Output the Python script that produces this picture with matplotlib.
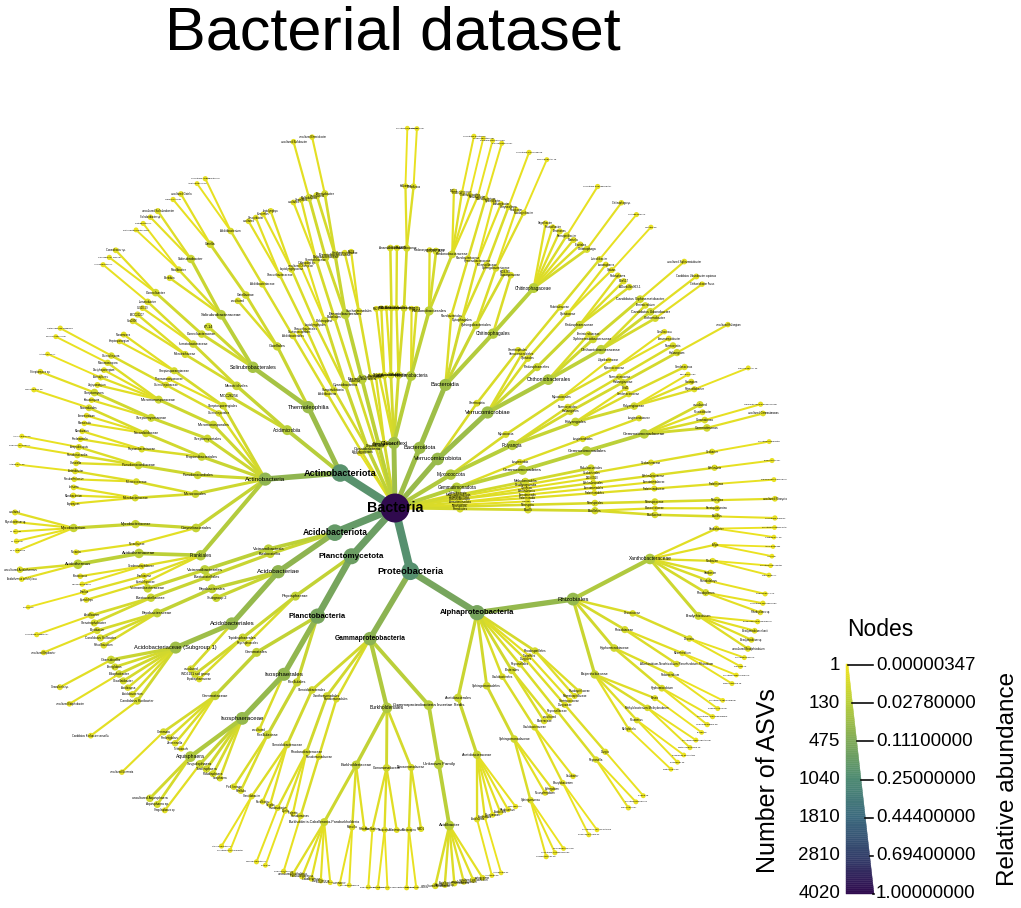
import numpy as np
import matplotlib.pyplot as plt
from matplotlib.collections import LineCollection
from matplotlib.colors import LinearSegmentedColormap
from matplotlib.patches import Polygon

plt.rcParams['font.family'] = ['Liberation Sans', 'DejaVu Sans']

title = "Bacterial dataset"
root_name = "Bacteria"
root_asvs = 4020

# taxonomy blocks: one node per line, indent = rank below phylum, "name, ASVs"
other_phyla = """
Firmicutes, 34
 Bacilli, 34
  Bacillales, 34
   Bacillaceae, 24
    Bacillus, 24
     uncultured Bacillus, 6
   Planococcaceae, 10
    Paenisporosarcina, 10
Nitrospirota, 24
 Nitrospiria, 24
  Nitrospirales, 24
   Nitrospiraceae, 24
    Nitrospira, 24
     uncultured Nitrospira, 10
Elusimicrobiota, 6
 Lineage IIb, 6
Armatimonadota, 20
 Fimbriimonadia, 12
  Fimbriimonadales, 12
   Fimbriimonadaceae, 12
    Fimbriimonas, 12
     Fimbriimonas ginsengisoli, 4
 Armatimonadia, 8
  Armatimonadales, 8
   Armatimonadaceae, 8
Bdellovibrionota, 24
 Bdellovibrionia, 16
  Bdellovibrionales, 16
   Bdellovibrionaceae, 16
    Bdellovibrio, 16
     Bdellovibrio sp., 5
 Oligoflexia, 8
  0319-6G20, 8
Desulfobacterota, 14
 Desulfuromonadia, 14
  Geobacterales, 14
   Geobacteraceae, 14
    Geobacter, 14
     uncultured Geobacter, 4
Methylomirabilota, 36
 Methylomirabilia, 36
  Rokubacteriales, 36
Latescibacterota, 8
Gemmatimonadota, 120
 Gemmatimonadetes, 104
  Gemmatimonadales, 104
   Gemmatimonadaceae, 104
    Gemmatimonas, 40
     uncultured Gemmatimonas, 10
    Gemmatirosa, 22
     Gemmatirosa kalamazoonesis, 6
    Roseisolibacter, 12
    uncultured, 30
 Longimicrobia, 16
  Longimicrobiales, 16
   Longimicrobiaceae, 16
Myxococcota, 150
 Polyangia, 124
  Polyangiales, 70
   Polyangiaceae, 40
    Pajaroellobacter, 14
     Pajaroellobacter sp., 4
    Sorangium, 14
    Chondromyces, 6
   Sandaracinaceae, 18
    Sandaracinus, 18
   BIrii41, 12
  Haliangiales, 34
   Haliangiaceae, 34
    Haliangium, 34
     uncultured Haliangium, 8
  Nannocystales, 20
   Nannocystaceae, 20
    Nannocystis, 20
 Myxococcia, 26
  Myxococcales, 26
   Myxococcaceae, 18
    Anaeromyxobacter, 10
    Corallococcus, 8
   Vulgatibacteraceae, 8
Verrucomicrobiota, 280
 Verrucomicrobiae, 256
  Chthoniobacterales, 160
   Chthoniobacteraceae, 96
    Chthoniobacter, 32
     Chthoniobacter flavus, 8
    Candidatus Udaeobacter, 44
     Candidatus Udaeobacter copiosus, 12
    Terrimicrobium, 20
   Xiphinematobacteraceae, 44
    Candidatus Xiphinematobacter, 44
     uncultured Xiphinematobacter, 10
   Terrimicrobiaceae, 20
  Pedosphaerales, 52
   Pedosphaeraceae, 52
    ADurb.Bin063-1, 22
    Ellin517, 16
    Pedosphaera, 14
  Opitutales, 24
   Opitutaceae, 24
    Opitutus, 12
     Opitutus sp., 4
    Lacunisphaera, 12
  Verrucomicrobiales, 20
   Rubritaleaceae, 20
    Luteolibacter, 20
     Luteolibacter sp., 5
 Omnitrophia, 24
  Omnitrophales, 24
Bacteroidota, 250
 Bacteroidia, 250
  Chitinophagales, 140
   Chitinophagaceae, 118
    Chitinophaga, 30
     Chitinophaga sp., 8
    Flavitalea, 16
    Niastella, 14
    Ferruginibacter, 20
     uncultured Ferruginibacter, 6
    Terrimonas, 14
    Flavisolibacter, 12
    Segetibacter, 12
   Saprospiraceae, 22
  Sphingobacteriales, 52
   KD3-93, 30
   Sphingobacteriaceae, 22
    Mucilaginibacter, 14
     Mucilaginibacter sp., 4
    Pedobacter, 8
  Cytophagales, 40
   Microscillaceae, 22
    Chryseolinea, 22
     uncultured Chryseolinea, 6
   Hymenobacteraceae, 18
    Adhaeribacter, 10
    Hymenobacter, 8
  Flavobacteriales, 18
   Flavobacteriaceae, 18
    Flavobacterium, 18
     Flavobacterium sp., 5
Chloroflexi, 240
 Ktedonobacteria, 120
  Ktedonobacterales, 90
   Ktedonobacteraceae, 46
    Ktedonobacter, 12
     Ktedonobacter racemifer, 4
    Thermosporothrix, 10
     Thermosporothrix sp., 3
    HSB OF53-F07, 14
     uncultured bacterium, 5
    1921-2, 10
   JG30-KF-AS9, 30
   Ktedonosporobacteraceae, 14
  C0119, 20
  TK10, 10
 Chloroflexia, 44
  Chloroflexales, 28
   Roseiflexaceae, 28
    Roseiflexus, 16
     Roseiflexus sp., 4
    Kallotenue, 12
     uncultured Kallotenue, 3
  Thermomicrobiales, 16
   JG30-KF-CM45, 16
 Anaerolineae, 34
  Anaerolineales, 22
   Anaerolineaceae, 22
  RBG-13-54-9, 12
 Dehalococcoidia, 26
  S085, 14
  FW22, 12
 AD3, 16
Patescibacteria, 40
 Parcubacteria, 16
 Saccharimonadia, 24
  Saccharimonadales, 24
   LWQ8, 10
   Saccharimonadaceae, 14
WPS-2, 100
 Eremiobacteria, 100
  Eremiobacterales, 100
   Eremiobacteraceae, 60
    Eremiobacter, 30
     uncultured Eremiobacter, 8
    uncultured, 30
   Baltobacteraceae, 40
    Baltobacter, 40
     uncultured Baltobacter, 10
Dependentiae, 30
 Babeliae, 30
  Babeliales, 30
   Vermiphilaceae, 30
    Vermiphilus, 12
    uncultured, 10
Cyanobacteria, 90
 Cyanobacteriia, 60
  Chloroplast, 40
   Chloroplast sp., 10
   uncultured Chloroplast, 8
  Leptolyngbyales, 20
   Leptolyngbyaceae, 20
    Leptolyngbya, 12
    Stenomitos, 8
 Vampirivibrionia, 30
  Obscuribacterales, 20
   Obscuribacteraceae, 20
    Obscuribacter, 10
    uncultured, 10
  Gastranaerophilales, 10
Abditibacteriota, 20
 Abditibacteria, 20
  Abditibacteriales, 20
   Abditibacteriaceae, 20
    Abditibacterium, 20
     uncultured Abditibacterium, 6
     Abditibacterium sp., 4
Sumerlaeota, 6
"""

actinobacteriota = """
Actinobacteriota, 860
 Thermoleophilia, 260
  Gaiellales, 60
   Gaiellaceae, 40
    Gaiella, 40
     uncultured Gaiella, 10
     Gaiella occulta, 6
   uncultured, 20
  Solirubrobacterales, 200
   Solirubrobacteraceae, 110
    Solirubrobacter, 60
     uncultured Solirubrobacter, 14
     Solirubrobacter sp., 8
    Patulibacter, 20
     Patulibacter sp., 5
     Patulibacter minatonensis, 4
    Baekduia, 16
   67-14, 50
   Conexibacteraceae, 40
    Conexibacter, 40
     Conexibacter sp., 10
     Conexibacter woesei, 6
 Acidimicrobiia, 120
  Microtrichales, 70
   Ilumatobacteraceae, 40
    Ilumatobacter, 20
     Ilumatobacter sp., 5
    CL500-29, 10
   Microtrichaceae, 30
    IMCC26207, 16
    Sva0996, 14
  IMCC26256, 50
 Actinobacteria, 330
  Streptosporangiales, 40
   Streptosporangiaceae, 30
    Nonomuraea, 12
    Streptosporangium, 8
   Thermomonosporaceae, 10
  Catenulisporales, 20
   Catenulisporaceae, 20
    Catenulispora, 20
     Catenulispora acidiphila, 6
  Micromonosporales, 50
   Micromonosporaceae, 50
    Micromonospora, 16
     Micromonospora sp., 4
    Dactylosporangium, 10
    Actinoplanes, 12
     Actinoplanes sp., 3
    Virgisporangium, 12
  Streptomycetales, 50
   Streptomycetaceae, 50
    Streptomyces, 40
     Streptomyces sp., 10
    Kitasatospora, 10
  Propionibacteriales, 60
   Nocardioidaceae, 40
    Nocardioides, 24
     Nocardioides sp., 6
    Aeromicrobium, 8
    Marmoricola, 8
   Propionibacteriaceae, 20
    Microlunatus, 10
    Friedmanniella, 10
  Pseudonocardiales, 50
   Pseudonocardiaceae, 50
    Amycolatopsis, 16
     Amycolatopsis sp., 4
    Pseudonocardia, 20
     Pseudonocardia sp., 6
    Crossiella, 14
  Micrococcales, 50
   Micrococcaceae, 22
    Arthrobacter, 14
     Arthrobacter sp., 4
    Pseudarthrobacter, 8
   Microbacteriaceae, 28
    Leifsonia, 10
    Microbacterium, 10
    Agromyces, 8
  Corynebacteriales, 70
   Mycobacteriaceae, 60
    Mycobacterium, 60
     uncultured, 12
     Mycobacterium sp., 8
     M. tusciae, 6
     M. celatum, 6
     M. kyorinense, 6
   Nocardiaceae, 10
    Nocardia, 10
  Frankiales, 140
   Acidothermaceae, 100
    Acidothermus, 100
     uncultured Acidothermus, 20
     Acidothermus cellulolyticus, 8
   Geodermatophilaceae, 14
    Blastococcus, 8
    Geodermatophilus, 6
   Frankiaceae, 14
    Frankia, 14
     Frankia sp., 3
   Sporichthyaceae, 12
    Sporichthya, 12
"""

acidobacteriota = """
Acidobacteriota, 720
 Vicinamibacteria, 100
  Vicinamibacterales, 100
   Vicinamibacteraceae, 60
 Blastocatellia, 60
  Blastocatellales, 60
   Blastocatellaceae, 60
    Aridibacter, 30
     uncultured Aridibacter, 6
    Stenotrophobacter, 30
 Acidobacteriae, 340
  Bryobacterales, 80
   Bryobacteraceae, 80
    Bryobacter, 30
     uncultured Bryobacter, 8
    Candidatus Solibacter, 30
    Paludibaculum, 20
  Subgroup 2, 60
  Acidobacteriales, 300
   Acidobacteriaceae (Subgroup 1), 240
    Granulicella, 60
     Granulicella sp., 12
    Terriglobus, 30
    Edaphobacter, 40
     uncultured Edaphobacter, 8
    Occallatibacter, 30
    Acidicapsa, 20
    Acidobacterium, 20
    Candidatus Koribacter, 40
     Candidatus Koribacter versatilis, 10
   uncultured, 30
"""

planctomycetota = """
Planctomycetota, 640
 Phycisphaerae, 80
  Tepidisphaerales, 60
   WD2101 soil group, 40
   Tepidisphaeraceae, 20
  Phycisphaerales, 20
 Planctobacteria, 540
  Gemmatales, 80
   Gemmataceae, 80
    Gemmata, 30
     uncultured Gemmata, 8
    Fimbriiglobus, 20
    Zavarzinella, 20
    Telmatocola, 10
  Isosphaerales, 320
   Isosphaeraceae, 300
    Aquisphaera, 160
     uncultured Aquisphaera, 40
     Aquisphaera sp., 30
    Singulisphaera, 60
     Singulisphaera sp., 12
    Tundrisphaera, 40
    Paludisphaera, 30
    Isosphaera, 20
   uncultured, 20
  Pirellulales, 60
   Pirellulaceae, 60
    Pir4 lineage, 20
    Pirellula, 20
"""

proteobacteria = """
Proteobacteria, 900
 Gammaproteobacteria, 360
  Steroidobacterales, 40
   Steroidobacteraceae, 40
    Steroidobacter, 16
     Steroidobacter sp., 5
     uncultured Steroidobacter, 4
    Povalibacter, 12
    Nevskia, 12
  Xanthomonadales, 40
   Rhodanobacteraceae, 40
    Rhodanobacter, 16
     Rhodanobacter sp., 5
    Dyella, 14
     Dyella sp., 4
    Frateuria, 10
  Pseudomonadales, 20
   Pseudomonadaceae, 20
    Pseudomonas, 20
     Pseudomonas sp., 6
  Burkholderiales, 150
   Burkholderiaceae, 80
    Burkholderia-Caballeronia-Paraburkholderia, 50
     uncultured Burkholderia, 14
     Paraburkholderia sp., 12
     Caballeronia sp., 10
     Burkholderia sp., 8
     Paraburkholderia fungorum, 6
    Massilia, 18
     Massilia sp., 5
     uncultured Massilia, 4
    Ralstonia, 12
   Comamonadaceae, 40
    Ramlibacter, 14
     Ramlibacter sp., 4
    Variovorax, 14
     Variovorax sp., 4
     Variovorax paradoxus, 3
    Polaromonas, 12
   Nitrosomonadaceae, 30
    Nitrosospira, 16
     Nitrosospira sp., 5
     uncultured Nitrosospira, 4
    MND1, 14
  Gammaproteobacteria Incertae Sedis, 110
   Unknown Family, 110
    Acidibacter, 110
     uncultured Acidibacter, 20
     Acidibacter sp., 18
     Acidibacter ferrireducens, 16
     uncultured bacterium, 14
     uncultured soil bacterium, 12
     metagenome, 10
 Alphaproteobacteria, 540
  Acetobacterales, 60
   Acetobacteraceae, 60
    Acidisoma, 14
     Acidisoma sp., 4
    Acidiphilium, 12
     Acidiphilium sp., 3
    Roseomonas, 10
    Acidocella, 10
    Rhodovastum, 8
    Granulibacter, 6
  Sphingomonadales, 40
   Sphingomonadaceae, 40
    Sphingomonas, 20
     Sphingomonas sp., 6
     uncultured Sphingomonas, 5
     Sphingomonas faeni, 3
    Novosphingobium, 10
    Sphingobium, 10
  Caulobacterales, 20
   Caulobacteraceae, 20
    Phenylobacterium, 12
     Phenylobacterium sp., 4
     uncultured Phenylobacterium, 3
    Caulobacter, 8
  Elsterales, 40
   Elsteraceae, 20
   uncultured, 20
  Reyranellales, 20
   Reyranellaceae, 20
    Reyranella, 20
     Reyranella sp., 6
     uncultured Reyranella, 4
  Dongiales, 16
   Dongiaceae, 16
    Dongia, 16
     Dongia sp., 4
  Tistrellales, 10
   Geminicoccaceae, 10
  Rhodospirillales, 30
   Magnetospirillaceae, 14
   Rhodospirillaceae, 16
  Rhizobiales, 300
   Beijerinckiaceae, 60
    Methylocella, 12
     Methylocella sp., 3
    Roseiarcus, 14
     Roseiarcus sp., 4
     Roseiarcus fermentans, 3
    Methylobacterium-Methylorubrum, 20
     Methylobacterium sp., 5
     uncultured Methylobacterium, 4
    Bosea, 14
     Bosea sp., 3
   Hyphomicrobiaceae, 40
    Hyphomicrobium, 24
     Hyphomicrobium sp., 6
     uncultured Hyphomicrobium, 5
    Pedomicrobium, 16
     Pedomicrobium sp., 4
     uncultured Pedomicrobium, 3
   Rhizobiaceae, 30
    Allorhizobium-Neorhizobium-Pararhizobium-Rhizobium, 18
    Mesorhizobium, 12
     Mesorhizobium sp., 4
     uncultured Mesorhizobium, 3
   Devosiaceae, 20
    Devosia, 20
     Devosia sp., 5
     uncultured Devosia, 4
   Xanthobacteraceae, 150
    Bradyrhizobium, 50
     uncultured Bradyrhizobium, 14
     Bradyrhizobium sp., 12
     Bradyrhizobium elkanii, 10
     Bradyrhizobium japonicum, 6
    Rhodoplanes, 30
     Rhodoplanes sp., 8
     uncultured Rhodoplanes, 6
    Pseudolabrys, 20
     Pseudolabrys sp., 5
    Variibacter, 16
    Nitrobacter, 12
     Nitrobacter sp., 4
     uncultured Nitrobacter, 3
    Afipia, 10
     Afipia sp., 3
     Afipia broomeae, 2
    Xanthobacter, 12
     Xanthobacter sp., 3
     uncultured Xanthobacter, 3
"""

legend_asvs = ["1", "130", "475", "1040", "1810", "2810", "4020"]
legend_abundance = ["0.00000347", "0.02780000", "0.11100000", "0.25000000",
                    "0.44400000", "0.69400000", "1.00000000"]

heat_colors = ['#f3e51c', '#b9cf3a', '#80ab58', '#4e8b73', '#3c6a7e', '#33416b', '#300a4e']
cmap = LinearSegmentedColormap.from_list('heat', heat_colors)

RADII = [0, 65, 133, 200, 260, 322, 380]
CX, CY = 395, 508
START = -1.5
PT = 0.72  # points per pixel at 100 dpi


def parse_block(block, nodes):
    stack = [0]
    for line in block.strip('\n').splitlines():
        indent = len(line) - len(line.lstrip(' '))
        name, n = line.strip().rsplit(',', 1)
        depth = indent + 1
        del stack[depth:]
        nodes.append({'name': name, 'n': int(n), 'depth': depth,
                      'parent': stack[-1], 'kids': []})
        idx = len(nodes) - 1
        nodes[stack[-1]]['kids'].append(idx)
        stack.append(idx)


def set_angle(nodes, i):
    nd = nodes[i]
    if nd['kids']:
        nd['ang'] = np.mean([set_angle(nodes, c) for c in nd['kids']])
    return nd['ang']


nodes = [{'name': root_name, 'n': root_asvs, 'depth': 0, 'parent': None, 'kids': []}]
for block in [other_phyla, actinobacteriota, acidobacteriota, planctomycetota, proteobacteria]:
    parse_block(block, nodes)

leaves = [i for i, nd in enumerate(nodes) if not nd['kids']]
step = 360.0 / len(leaves)
for k, i in enumerate(leaves):
    nodes[i]['ang'] = START + k * step
set_angle(nodes, 0)

for nd in nodes:
    r = RADII[nd['depth']]
    a = np.radians(nd['ang'])
    nd['x'] = CX + r * np.cos(a)
    nd['y'] = CY - r * np.sin(a)
    nd['p'] = np.sqrt(nd['n'] / root_asvs)

fig = plt.figure(figsize=(10.21, 9.08), dpi=100)
ax = fig.add_axes([0, 0, 1, 1])
ax.set_xlim(0, 1021)
ax.set_ylim(908, 0)
ax.axis('off')

# edges, thin ones underneath
order = sorted(range(1, len(nodes)), key=lambda i: nodes[i]['n'])
segs, widths, cols = [], [], []
for i in order:
    nd = nodes[i]
    par = nodes[nd['parent']]
    segs.append([(par['x'], par['y']), (nd['x'], nd['y'])])
    widths.append((1.5 + 14 * nd['p']) * PT)
    cols.append(cmap(nd['p']))
ax.add_collection(LineCollection(segs, linewidths=widths, colors=cols,
                                 capstyle='butt', zorder=1))

# nodes
order = sorted(range(len(nodes)), key=lambda i: nodes[i]['n'])
ax.scatter([nodes[i]['x'] for i in order], [nodes[i]['y'] for i in order],
           s=[((3 + 26 * nodes[i]['p'] ** 0.75) * PT) ** 2 for i in order],
           c=[cmap(nodes[i]['p']) for i in order], linewidths=0, zorder=2)

# labels
for nd in nodes:
    px = min(1.8 + 16 * nd['p'], 14.2)
    ax.text(nd['x'], nd['y'], nd['name'], fontsize=px * PT, ha='center', va='center',
            fontweight='bold' if nd['n'] >= 350 else 'normal', color='black', zorder=3)

ax.text(393, 50, title, fontsize=44, ha='center', va='baseline')

# legend: wedge of colour and size
top, bot, left = 664, 894, 846
nsl = 120
for k in range(nsl):
    y0 = top + (bot - top) * k / nsl
    y1 = top + (bot - top) * (k + 1) / nsl
    w0 = 2 + 26 * (y0 - top) / (bot - top)
    w1 = 2 + 26 * (y1 - top) / (bot - top)
    ax.add_patch(Polygon([(left, y0), (left + w0, y0), (left + w1, y1), (left, y1)],
                         closed=True, facecolor=cmap((k + 0.5) / nsl),
                         edgecolor=cmap((k + 0.5) / nsl), linewidth=0.3, zorder=2))
for k, (a, b) in enumerate(zip(legend_asvs, legend_abundance)):
    y = top + 1 + (bot - top - 1) * k / 6
    xe = left + 2 + 26 * (y - top) / (bot - top)
    ax.plot([xe, 873], [y, y], color='black', lw=1.6 * PT, zorder=3)
    ax.text(840, y, a, fontsize=13.5, ha='right', va='center')
    ax.text(876, y, b, fontsize=13.5, ha='left', va='center')
ax.text(880, 630, "Nodes", fontsize=16.5, ha='center', va='center')
ax.text(768, 781, "Number of ASVs", fontsize=18, rotation=90, ha='center', va='center')
ax.text(1008, 779, "Relative abundance", fontsize=17.5, rotation=90, ha='center', va='center')

fig.savefig('out.png', dpi=100)
